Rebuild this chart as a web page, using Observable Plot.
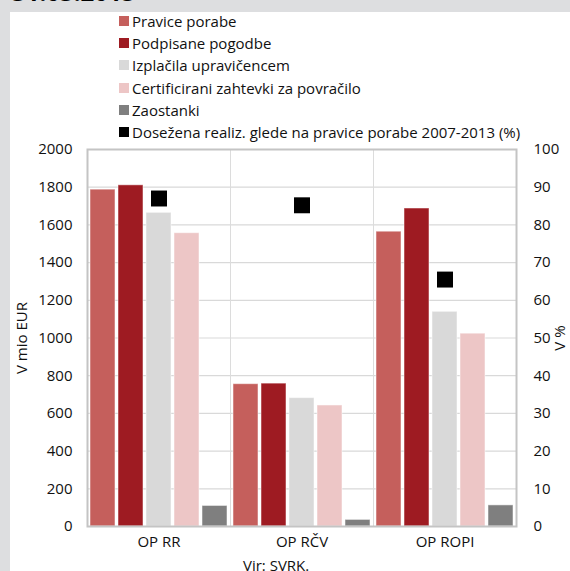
<!DOCTYPE html>
<html>
<head>
<meta charset="utf-8">
<script src="https://cdn.jsdelivr.net/npm/d3@7"></script>
<script src="https://cdn.jsdelivr.net/npm/@observablehq/plot@0.6"></script>
<style>
  html, body { margin: 0; padding: 0; }
  body { width: 570px; height: 571px; background: #dddee0; position: relative; overflow: hidden; font-family: "Open Sans", sans-serif; }
  #panel { position: absolute; left: 10px; top: 12px; right: 0; bottom: 0; background: #fff; }
  #title { position: absolute; left: 12px; top: -25px; font-size: 24px; font-weight: bold; color: #000; }
  #legend { position: absolute; left: 119px; top: 10px; }
  .item { height: 22.2px; line-height: 22.2px; font-size: 15px; color: #111; white-space: nowrap; display: flex; align-items: center; }
  .sw { width: 9.5px; height: 10px; margin-right: 3.5px; flex: none; }
  #chart { position: absolute; left: 0; top: 140px; }
  #caption { position: absolute; left: 243px; top: 555px; font-size: 15px; color: #111; white-space: nowrap; }
</style>
</head>
<body>
<div id="panel"></div>
<div id="title">31.03.2015</div>
<div id="legend"></div>
<div id="chart"></div>
<div id="caption">Vir: SVRK.</div>
<script>
const groups = ["OP RR", "OP RČV", "OP ROPI"];
const series = ["Pravice porabe", "Podpisane pogodbe", "Izplačila upravičencem", "Certificirani zahtevki za povračilo", "Zaostanki"];
const seriesColors = ["#c55f5c", "#9e1b22", "#d9d9d9", "#edc6c6", "#7f7f7f"];
const pravicePorabe = [1787, 755, 1564];
const podpisanePogodbe = [1810, 758, 1687];
const izplacila = [1664, 681, 1139];
const certificirani = [1556, 642, 1023];
const zaostanki = [109, 35, 112];
const realizacija = [87.0, 85.2, 65.5];
const realizacijaLabel = "Dosežena realiz. glede na pravice porabe 2007-2013 (%)";
const yTicks = [0, 200, 400, 600, 800, 1000, 1200, 1400, 1600, 1800, 2000];
const pctTicks = [0, 10, 20, 30, 40, 50, 60, 70, 80, 90, 100];

const seriesValues = [pravicePorabe, podpisanePogodbe, izplacila, certificirani, zaostanki];
const data = [];
groups.forEach((g, gi) => series.forEach((s, si) => data.push({group: g, series: s, value: seriesValues[si][gi]})));
const pctData = groups.map((g, gi) => ({group: g, pct: realizacija[gi]}));
const scaleFactor = 2000 / 100;

// legend
const legend = document.getElementById("legend");
[...series.map((s, i) => [s, seriesColors[i]]), [realizacijaLabel, "#000"]].forEach(([s, c]) => {
  const row = document.createElement("div");
  row.className = "item";
  const sw = document.createElement("span");
  sw.className = "sw";
  sw.style.background = c;
  row.appendChild(sw);
  row.appendChild(document.createTextNode(s));
  legend.appendChild(row);
});

const chart = Plot.plot({
  width: 570,
  height: 416,
  marginLeft: 86,
  marginRight: 53,
  marginTop: 9,
  marginBottom: 30,
  style: {fontFamily: "Open Sans", fontSize: "15px", background: "transparent", color: "#111", overflow: "visible"},
  fx: {domain: groups, padding: 0, label: null},
  x: {domain: series, paddingInner: 0.1, paddingOuter: 0.1, axis: null},
  y: {domain: [0, 2000], axis: null},
  color: {domain: series, range: seriesColors},
  marks: [
    Plot.gridY(yTicks, {stroke: "#d9d9d9", strokeOpacity: 1, strokeWidth: 1.2}),
    Plot.frame({stroke: "#dcdcdc", strokeWidth: 1}),
    Plot.barY(data, {fx: "group", x: "series", y: "value", fill: "series", stroke: "#fff", strokeOpacity: 0.5, strokeWidth: 1}),
    Plot.dot(pctData, {fx: "group", y: d => d.pct * scaleFactor, frameAnchor: "middle", symbol: "square", r: 9, fill: "#000", stroke: "none"}),
    Plot.frame({stroke: "#c4c4c4", strokeWidth: 2, facet: "super"}),
    Plot.axisY({ticks: yTicks, tickFormat: d => String(d), tickSize: 0, tickPadding: 15, label: "V mio EUR", labelAnchor: "center", labelOffset: 71, labelArrow: "none"}),
    Plot.axisY({anchor: "right", ticks: pctTicks.map(p => p * scaleFactor), tickFormat: d => String(d / scaleFactor), tickSize: 0, tickPadding: 17, label: "V %", labelAnchor: "center", labelOffset: 48, labelArrow: "none"}),
    Plot.axisFx({anchor: "bottom", tickSize: 0, tickPadding: 10, label: null})
  ]
});
document.getElementById("chart").appendChild(chart);
</script>
</body>
</html>
